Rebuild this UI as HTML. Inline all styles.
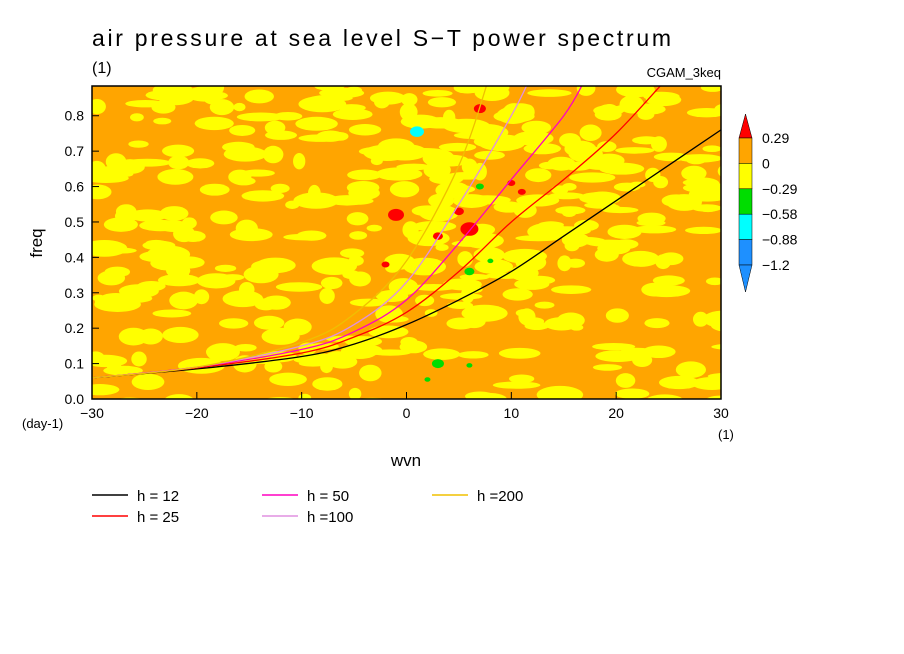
<!DOCTYPE html>
<html><head><meta charset="utf-8">
<style>
body{margin:0;background:#fff;}
svg{display:block;font-family:"Liberation Sans",sans-serif;}
</style></head>
<body>
<svg id="chart" width="904" height="654" viewBox="0 0 904 654">
<text x="92" y="46" font-size="23" textLength="579" lengthAdjust="spacing">air pressure at sea level S−T power spectrum</text>
<text x="92" y="73" font-size="16">(1)</text>
<text x="721" y="77" font-size="13" text-anchor="end">CGAM_3keq</text>
<clipPath id="clip"><rect x="92" y="86" width="629" height="313"/></clipPath>
<g id="field" clip-path="url(#clip)">
<rect x="92" y="86" width="629" height="313" fill="#ffa500"/>
</g>
<g id="curves" clip-path="url(#clip)"></g>
<rect x="92" y="86" width="629" height="313" fill="none" stroke="#000" stroke-width="1.5"/>
<g id="axes"></g>
<text x="42" y="243" font-size="17" transform="rotate(-90 42 243)" text-anchor="middle">freq</text>
<text x="406" y="466" font-size="17" text-anchor="middle">wvn</text>
<text x="22" y="428" font-size="13">(day-1)</text>
<text x="718" y="439" font-size="13">(1)</text>
<g id="colorbar"></g>
<g id="legend"></g>
</svg>
<script>
const xTicks=[-30,-20,-10,0,10,20,30];
const yTicks=[0,0.1,0.2,0.3,0.4,0.5,0.6,0.7,0.8];
const curveNames=["h = 12","h = 25","h = 50","h =100","h =200"];
const curveColors=["#000000","#ff0000","#ff00c0","#e090e0","#f0c000"];
const curveX=[
 [-30,-20,-10,-5,0,5,10,15,20,25,30],
 [-30,-20,-10,-5,0,5,10,15,20,25],
 [-30,-20,-10,-5,0,5,10,15,17],
 [-30,-20,-10,-5,0,5,10,12],
 [-30,-20,-10,-5,0,5,8]];
const curveY=[
 [0.06,0.085,0.12,0.155,0.21,0.28,0.36,0.46,0.56,0.66,0.76],
 [0.06,0.088,0.13,0.175,0.245,0.36,0.5,0.62,0.75,0.91],
 [0.06,0.09,0.14,0.19,0.28,0.44,0.62,0.8,0.9],
 [0.06,0.09,0.15,0.21,0.33,0.55,0.8,0.92],
 [0.06,0.09,0.16,0.24,0.39,0.66,0.92]];
const spotX=[1,7,6,-1,5,3,10,11,-2,3,6,7,2,8,6];
const spotY=[0.755,0.82,0.48,0.52,0.53,0.46,0.61,0.585,0.38,0.1,0.36,0.6,0.055,0.39,0.095];
const spotC=["#00ffff","#ff0000","#ff0000","#ff0000","#ff0000","#ff0000","#ff0000","#ff0000","#ff0000","#00dd00","#00dd00","#00dd00","#00dd00","#00dd00","#00dd00"];
const spotR=[7,6,9,8,5,5,4,4,4,6,5,4,3,3,3];
const cbLabels=["0.29","0","−0.29","−0.58","−0.88","−1.2"];
const cbColors=["#ff0000","#ffa500","#ffff00","#00dd00","#00ffff","#1e90ff","#1e7bff"];

const NS="http://www.w3.org/2000/svg";
const X0=92,X1=721,Y0=399,Y1=86,YMAX=0.884;
const sx=v=>X0+(v+30)/60*(X1-X0);
const sy=v=>Y0-v/YMAX*(Y0-Y1);
function mk(t,a,p){const e=document.createElementNS(NS,t);for(const k in a)e.setAttribute(k,a[k]);(p||document.getElementById('chart')).appendChild(e);return e;}

// background texture (yellow patches over orange)
const field=document.getElementById('field');
let seed=98765;
function rnd(){seed=(Math.imul(seed,1103515245)+12345)>>>0;return (seed>>>8)/16777216;}
for(let i=0;i<400;i++){
 const e=mk('ellipse',{cx:92+rnd()*640,cy:84+rnd()*320,rx:6+rnd()*18,ry:3+rnd()*6,fill:'#ffff00'},field);
 
 
}
spotX.forEach((v,i)=>{
 const e=mk('ellipse',{cx:sx(v),cy:sy(spotY[i]),rx:spotR[i],ry:spotR[i]*0.75,fill:spotC[i]},field);
 
 
});

// curves (smooth through data points)
const cg=document.getElementById('curves');
curveX.forEach((xs,i)=>{
 const P=xs.map((v,j)=>[sx(v),sy(curveY[i][j])]);
 let d='M'+P[0][0].toFixed(1)+' '+P[0][1].toFixed(1);
 for(let j=0;j<P.length-1;j++){
  const p0=P[Math.max(0,j-1)],p1=P[j],p2=P[j+1],p3=P[Math.min(P.length-1,j+2)];
  const c1=[p1[0]+(p2[0]-p0[0])/6,p1[1]+(p2[1]-p0[1])/6];
  const c2=[p2[0]-(p3[0]-p1[0])/6,p2[1]-(p3[1]-p1[1])/6];
  d+=' C'+c1.map(n=>n.toFixed(1)).join(' ')+' '+c2.map(n=>n.toFixed(1)).join(' ')+' '+p2[0].toFixed(1)+' '+p2[1].toFixed(1);
 }
 const p=mk('path',{d:d,fill:'none',stroke:curveColors[i],'stroke-width':1.3},cg);
 
 
});

// axes
const ax=document.getElementById('axes');
xTicks.forEach(v=>{
 const x=sx(v);
 const l=mk('line',{x1:x,x2:x,y1:Y0,y2:Y0-7,stroke:'#000'},ax);
 
 
 const t=mk('text',{x:x,y:418,'font-size':14,'text-anchor':'middle'},ax);
 t.textContent=(v<0?'−':'')+Math.abs(v);
 
 
});
yTicks.forEach(v=>{
 const y=sy(v);
 const l=mk('line',{x1:X0,x2:X0+7,y1:y,y2:y,stroke:'#000'},ax);
 
 
 const t=mk('text',{x:84,y:y+5,'font-size':14,'text-anchor':'end'},ax);
 t.textContent=v.toFixed(1);
 
 
});

// colorbar
const cb=document.getElementById('colorbar');
const bx=739,bw=13,cbTop=114,step=25.4;
const tri1=mk('polygon',{points:`${bx},${cbTop+24} ${bx+bw/2},${cbTop} ${bx+bw},${cbTop+24}`,fill:cbColors[0],stroke:'#000','stroke-width':0.5},cb);


for(let i=1;i<6;i++){
 const r=mk('rect',{x:bx,y:138+(i-1)*step,width:bw,height:step,fill:cbColors[i],stroke:'#000','stroke-width':0.5},cb);
 
 
}
const yb=138+5*step;
const tri2=mk('polygon',{points:`${bx},${yb} ${bx+bw/2},${yb+27} ${bx+bw},${yb}`,fill:cbColors[5],stroke:'#000','stroke-width':0.5},cb);


cbLabels.forEach((v,i)=>{
 const t=mk('text',{x:762,y:143+i*step,'font-size':14},cb);
 t.textContent=v;
 
 
});

// legend
const lg=document.getElementById('legend');
const lx=[92,92,262,262,432],ly=[495,516,495,516,495];
curveNames.forEach((n,i)=>{
 const l=mk('line',{x1:lx[i],x2:lx[i]+36,y1:ly[i],y2:ly[i],stroke:curveColors[i],'stroke-width':1.5},lg);
 
 
 const t=mk('text',{x:lx[i]+45,y:ly[i]+6,'font-size':15},lg);
 t.textContent=n;
 
 
});
</script>
</body></html>
